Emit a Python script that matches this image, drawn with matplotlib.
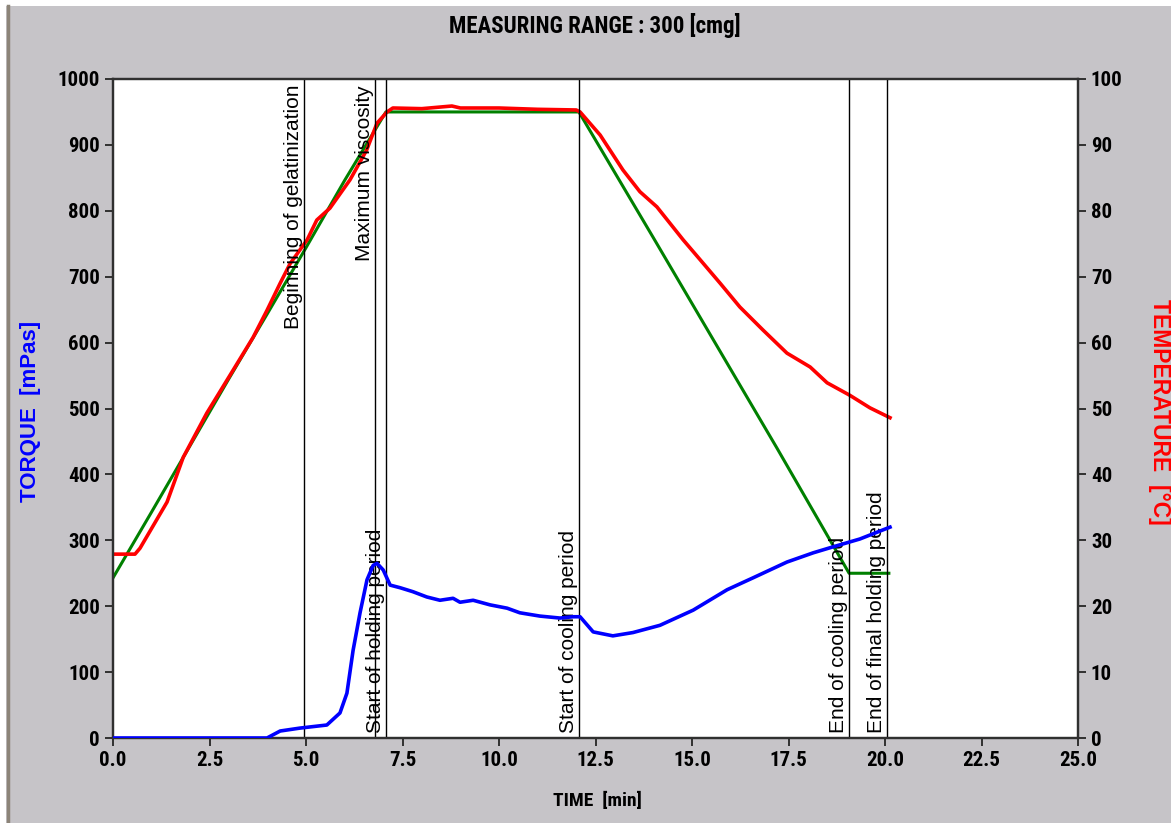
import matplotlib
matplotlib.use("Agg")
import matplotlib.pyplot as plt
from matplotlib import font_manager
from matplotlib.lines import Line2D
from matplotlib.patches import Rectangle

# temperature profile (set point), deg C
green_time = [0.0, 1.0, 2.0, 3.0, 4.0, 5.0, 6.0, 7.07, 9.0, 12.07, 14.0, 17.2, 19.07, 20.1]
green_temp = [24.3, 34.3, 44.4, 54.5, 64.4, 74.4, 84.6, 95.0, 95.0, 95.0, 75.9, 44.0, 25.0, 25.0]

# measured temperature, deg C
red_time = [0.0, 0.57, 0.70, 1.40, 1.82, 2.43, 3.11, 3.63, 3.99, 4.33, 4.59, 5.03, 5.28,
            5.62, 6.14, 6.57, 6.84, 7.10, 7.25, 8.0, 8.78, 9.0, 10.0, 11.0, 12.0, 12.10,
            12.62, 13.21, 13.65, 14.09, 14.77, 15.28, 15.73, 16.24, 16.84, 17.46, 18.06,
            18.50, 19.09, 19.61, 20.13]
red_temp = [27.9, 27.9, 28.8, 35.8, 42.6, 49.3, 55.8, 60.8, 64.9, 69.0, 72.0, 75.6, 78.6,
            80.4, 84.7, 89.2, 93.3, 95.0, 95.6, 95.5, 95.9, 95.6, 95.6, 95.4, 95.3, 95.0,
            91.5, 86.2, 82.9, 80.6, 75.6, 72.1, 69.0, 65.4, 61.9, 58.4, 56.3,
            53.9, 52.0, 50.1, 48.6]

# torque, mPas
blue_time = [0.0, 3.99, 4.33, 4.84, 5.54, 5.88, 6.06, 6.22, 6.40, 6.58, 6.74, 6.84, 7.0,
             7.18, 7.44, 7.77, 8.13, 8.47, 8.81, 8.99, 9.33, 9.77, 10.21, 10.54, 11.06,
             11.58, 11.92, 12.10, 12.44, 12.95, 13.47, 14.17, 15.03, 15.91, 16.58, 17.46,
             18.14, 18.65, 19.35, 20.13]
blue_torque = [0, 0, 10.6, 15, 19.7, 38, 68, 133, 190, 240, 262, 265, 255,
               232, 228, 222, 214, 209, 212, 206, 209, 202, 197, 190, 185,
               182, 184, 184, 161, 155, 160, 171, 194, 225, 243, 267,
               281, 290, 302, 320]

event_time = [4.95, 6.8, 7.07, 12.07, 19.07, 20.05]
event_label = ["Beginning of gelatinization", "Maximum viscosity", "Start of holding period",
               "Start of cooling period", "End of cooling period", "End of final holding period"]
event_top = [True, True, False, False, False, False]

# pick a narrow bold face if there is one, else plain Liberation Sans
names = {f.name for f in font_manager.fontManager.ttflist}
narrow = 'Liberation Sans'
for cand in ['Liberation Sans Narrow', 'Roboto Condensed', 'Open Sans Condensed']:
    if cand in names:
        narrow = cand
        break

bg = '#c6c4c8'

fig = plt.figure(figsize=(11.71, 8.23), dpi=100, facecolor=bg)
ax = fig.add_axes([113/1171, 1-738/823, (1078-113)/1171, (738-79)/823])
ax2 = ax.twinx()
ax.set_zorder(ax2.get_zorder() + 1)
ax.patch.set_visible(False)
ax2.patch.set_visible(True)
ax2.patch.set_facecolor('white')

ax2.plot(green_time, green_temp, color='#008000', lw=2.2)
ax2.plot(red_time, red_temp, color='#ff0000', lw=2.6)
ax.plot(blue_time, blue_torque, color='#0000ff', lw=2.6, zorder=3)

for t, lab, top in zip(event_time, event_label, event_top):
    ax.axvline(t, color='black', lw=1.0, zorder=2)
    if top:
        ax.text(t - 0.03, 991, lab, rotation=90, ha='right', va='top', fontsize=15,
                family='Liberation Sans', zorder=2)
    else:
        ax.text(t - 0.03, 7, lab, rotation=90, ha='right', va='bottom', fontsize=15,
                family='Liberation Sans', zorder=2)

ax.set_xlim(0, 25)
ax.set_ylim(0, 1000)
ax2.set_ylim(0, 100)
ax.set_xticks([0, 2.5, 5, 7.5, 10, 12.5, 15, 17.5, 20, 22.5, 25])
ax.set_xticklabels(['0.0', '2.5', '5.0', '7.5', '10.0', '12.5', '15.0', '17.5', '20.0', '22.5', '25.0'])
ax.set_yticks(range(0, 1001, 100))
ax2.set_yticks(range(0, 101, 10))

for a in (ax, ax2):
    for s in a.spines.values():
        s.set_linewidth(1.6)
        s.set_color('#303030')
    a.tick_params(direction='out', length=5.8, width=1.4, color='#303030', pad=3.5)
    for lbl in a.get_xticklabels() + a.get_yticklabels():
        lbl.set_family(narrow)
        lbl.set_fontweight('bold')
        lbl.set_fontsize(15)

ax.set_xlabel('TIME  [min]', family=narrow, fontweight='bold', fontsize=14)
ax.xaxis.set_label_coords((597-113)/965, -(792-738)/659)
ax.set_ylabel('TORQUE  [mPas]', color='#0000ff', fontweight='bold', fontsize=16,
              family='Liberation Sans', va='center')
ax.yaxis.set_label_coords((31-113)/965, (738-411)/659)
ax2.set_ylabel('TEMPERATURE  [\u00b0C]', color='#ff0000', fontweight='bold', fontsize=16.5,
               family='Liberation Sans', rotation=270, va='center')
ax2.yaxis.set_label_coords((1160-113)/965, (738-412)/659)
fig.text(595/1171, 1-26/823, 'MEASURING RANGE : 300 [cmg]', ha='center', va='center',
         family=narrow, fontweight='bold', fontsize=16.5)

# window frame remnants
fig.add_artist(Rectangle((0, 1-6/823), 1, 6/823, transform=fig.transFigure, color='white', lw=0))
fig.add_artist(Rectangle((0, 0), 6/1171, 1, transform=fig.transFigure, color='white', lw=0))
fig.add_artist(Line2D([8/1171, 8/1171], [0, 1-6/823], transform=fig.transFigure, color='#8c8478', lw=2.5))

fig.savefig('out.png', dpi=100, facecolor=bg)
